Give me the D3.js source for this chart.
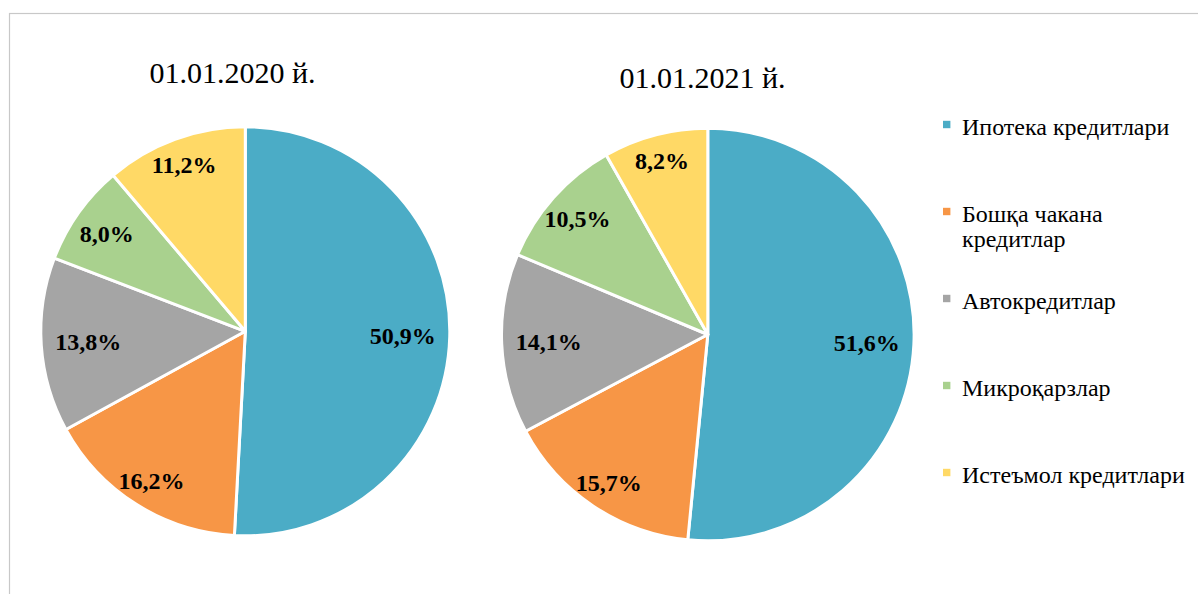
<!DOCTYPE html>
<html>
<head>
<meta charset="utf-8">
<script src="https://cdn.jsdelivr.net/npm/d3@7"></script>
<style>
  html, body { margin: 0; padding: 0; background: #fff; }
  svg { display: block; }
</style>
</head>
<body>
<svg id="chart" width="1198" height="594"></svg>
<script>
// Loan portfolio structure, retail credit categories (percent)
const categories = [
  "Ипотека кредитлари",
  "Бошқа чакана кредитлар",
  "Автокредитлар",
  "Микроқарзлар",
  "Истеъмол кредитлари"
];
const legendLines = [
  ["Ипотека кредитлари"],
  ["Бошқа чакана", "кредитлар"],
  ["Автокредитлар"],
  ["Микроқарзлар"],
  ["Истеъмол кредитлари"]
];
const titles = ["01.01.2020 й.", "01.01.2021 й."];
const values2020 = [50.9, 16.2, 13.8, 8.0, 11.2];
const values2021 = [51.6, 15.7, 14.1, 10.5, 8.2];
const colors = ["#4BACC6", "#F79646", "#A5A5A5", "#A9D18E", "#FFD966"];

const SERIF = "Liberation Serif";
const svg = d3.select("#chart");
const W = 1198, H = 594;

// chart-area frame
svg.append("rect")
  .attr("x", 9.5).attr("y", 13.5)
  .attr("width", W + 10).attr("height", H + 10)
  .attr("fill", "#fff")
  .attr("stroke", "#c8c8c8")
  .attr("stroke-width", 1.2);

const color = d3.scaleOrdinal().domain(categories).range(colors);
const fmt = v => d3.format(".1f")(v).replace(".", ",") + "%";

const pies = [
  { title: titles[0], values: values2020, cx: 245.3, cy: 331.3, r: 204.5, titleX: 232.5, titleY: 83 },
  { title: titles[1], values: values2021, cx: 707.8, cy: 334.5, r: 206.3, titleX: 702.5, titleY: 88 }
];

const pieGen = d3.pie().sort(null).value(d => d.value);

pies.forEach(p => {
  const data = categories.map((c, i) => ({ name: c, value: p.values[i] }));
  const arcs = pieGen(data);
  const arc = d3.arc().innerRadius(0).outerRadius(p.r);

  const g = svg.append("g").attr("transform", `translate(${p.cx},${p.cy})`);

  g.selectAll("path.slice")
    .data(arcs)
    .join("path")
    .attr("class", "slice")
    .attr("d", arc)
    .attr("fill", d => color(d.data.name))
    .attr("stroke", "#fff")
    .attr("stroke-width", 3)
    .attr("stroke-linejoin", "round");

  // value labels placed at the inside end of each slice
  const labels = g.selectAll("text.val")
    .data(arcs)
    .join("text")
    .attr("class", "val")
    .attr("text-anchor", "middle")
    .attr("dy", "0.35em")
    .attr("font-family", SERIF)
    .attr("font-weight", "bold")
    .attr("font-size", 24)
    .attr("fill", "#000")
    .text(d => fmt(d.data.value));

  labels.each(function(d) {
    const w = this.getComputedTextLength();
    const hw = w / 2, hh = 12, pad = 14;
    const a = (d.startAngle + d.endAngle) / 2;
    const s = Math.abs(Math.sin(a)), c = Math.abs(Math.cos(a));
    const ext = Math.min(s > 1e-6 ? hw / s : Infinity, c > 1e-6 ? hh / c : Infinity);
    const rr = p.r - pad - ext;
    d3.select(this)
      .attr("x", rr * Math.sin(a))
      .attr("y", -rr * Math.cos(a));
  });

  svg.append("text")
    .attr("x", p.titleX).attr("y", p.titleY)
    .attr("text-anchor", "middle")
    .attr("font-family", SERIF)
    .attr("font-size", 30)
    .attr("fill", "#000")
    .text(p.title);
});

// legend
const legend = svg.append("g").attr("transform", "translate(943,124.5)");
const item = legend.selectAll("g.item")
  .data(categories)
  .join("g")
  .attr("class", "item")
  .attr("transform", (d, i) => `translate(0,${i * 87})`);

item.append("rect")
  .attr("x", 0).attr("y", -3.7)
  .attr("width", 7.4).attr("height", 7.4)
  .attr("fill", d => color(d));

item.append("text")
  .attr("x", 19).attr("y", 10)
  .attr("font-family", SERIF)
  .attr("font-size", 24)
  .attr("fill", "#000")
  .selectAll("tspan")
  .data((d, i) => legendLines[i])
  .join("tspan")
  .attr("x", 19)
  .attr("dy", (d, j) => j === 0 ? 0 : 25)
  .text(d => d);
</script>
</body>
</html>
